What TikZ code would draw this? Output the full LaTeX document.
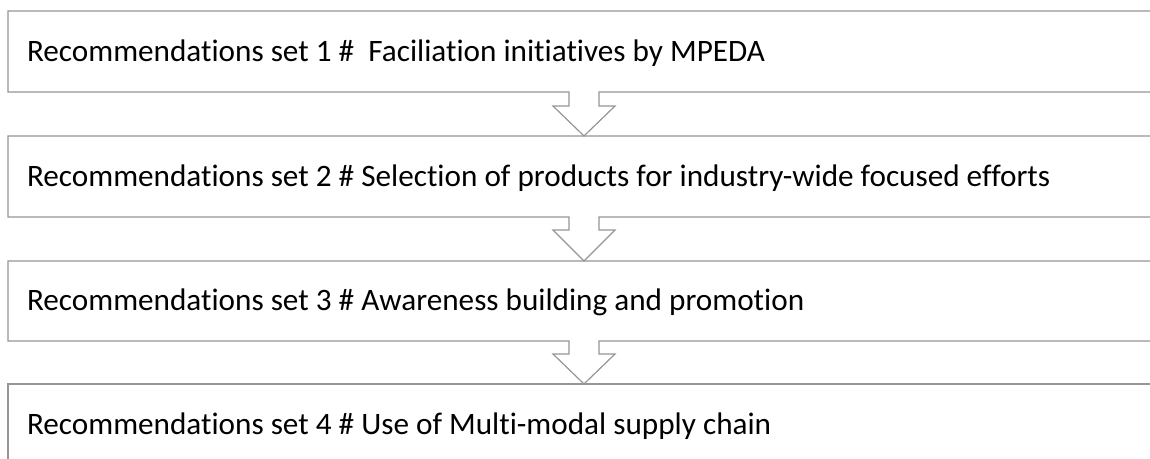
\documentclass[tikz,border=0pt]{standalone}
\usepackage{fontspec}
\setmainfont{Carlito}[Ligatures=NoCommon]
\usetikzlibrary{calc}
\definecolor{edgegray}{RGB}{150,150,150}
\tikzset{
  boxnode/.style={draw=none, inner sep=0pt, outer sep=0pt, minimum width=1000pt, minimum height=60.75pt, anchor=north west},
  lbl/.style={inner sep=0pt, outer sep=0pt, anchor=base west, font=\fontsize{23.4}{28}\selectfont, text=black},
  edge/.style={draw=edgegray, line width=0.9pt, line join=miter}
}
\begin{document}
\begin{tikzpicture}[x=0.75pt,y=-0.75pt]
\useasboundingbox (0,0) rectangle (1150,459);
\clip (0,0) rectangle (1150,459);
\fill[white] (0,0) rectangle (1150,459);
\coordinate (sl) at (569,0);
\coordinate (sr) at (599,0);
\coordinate (wr) at (615,0);
\coordinate (ax) at (584,0);
\node[boxnode] (b1) at (8,11) {};
\node[boxnode] (b2) at (8,136) {};
\node[boxnode, minimum height=60pt] (b3) at (8,261) {};
\node[boxnode] (b4) at (8,384) {};
\node[lbl] (t1) at ($(b1.west)+(19,10)$) {Recommendations set 1 \#\ \ Faciliation initiatives by MPEDA};
\node[lbl] (t2) at ($(b2.west)+(19,10)$) {Recommendations set 2 \# Selection of products for industry-wide focused efforts};
\node[lbl] (t3) at ($(b3.west)+(19,10)$) {Recommendations set 3 \# Awareness building and promotion};
\node[lbl] (t4) at ($(b4.west)+(19,10)$) {Recommendations set 4 \# Use of Multi-modal supply chain};
\draw[edge] (b1.north east) -- (b1.north west) -- (b1.south west) -- (b1.south -| sl) -- ++(0,14) -- ++(-16,0) -- (b2.north -| ax) -- ($(b1.south -| wr)+(0,14)$) -- ++(-16,0) -- (b1.south -| sr) -- (b1.south east);
\draw[edge] (b2.north east) -- (b2.north west) -- (b2.south west) -- (b2.south -| sl) -- ++(0,13) -- ++(-16,0) -- (b3.north -| ax) -- ($(b2.south -| wr)+(0,13)$) -- ++(-16,0) -- (b2.south -| sr) -- (b2.south east);
\draw[edge] (b3.north east) -- (b3.north west) -- (b3.south west) -- (b3.south -| sl) -- ++(0,13) -- ++(-16,0) -- (b4.north -| ax) -- ($(b3.south -| wr)+(0,13)$) -- ++(-16,0) -- (b3.south -| sr) -- (b3.south east);
\draw[edge] (b4.north east) -- (b4.north west) -- (b4.south west);
\end{tikzpicture}
\end{document}
